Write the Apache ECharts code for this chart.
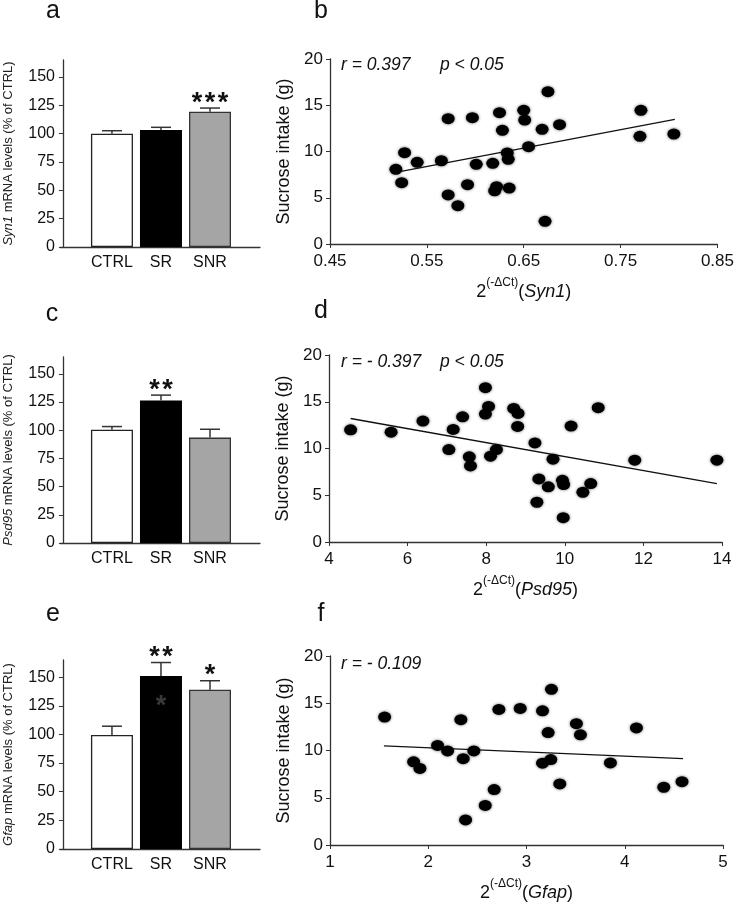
<!DOCTYPE html>
<html><head><meta charset="utf-8">
<script src="https://cdn.jsdelivr.net/npm/echarts@6/dist/echarts.min.js"></script>
<style>html,body{margin:0;padding:0;background:#fff}#c{width:737px;height:903px}</style>
</head><body><div id="c"></div>
<script>
// ---------- data ----------
const categories = ['CTRL', 'SR', 'SNR'];
const barTicks = [0, 25, 50, 75, 100, 125, 150];

const syn1Mean = [100, 103.2, 119.4];
const syn1Err = [2.6, 2.4, 3.2];
const syn1Stars = ['', '', '***'];

const psd95Mean = [100.5, 126.5, 93.5];
const psd95Err = [2.8, 4.7, 7.4];
const psd95Stars = ['', '**', ''];

const gfapMean = [99.5, 151, 139];
const gfapErr = [7.7, 11.8, 7.9];
const gfapStars = ['', '**', '*'];
const gfapInnerStar = [129]; // faint star inside SR bar

const syn1Ticks = [0.45, 0.55, 0.65, 0.75, 0.85];
const syn1Points = [[0.518,8.07],[0.524,6.63],[0.527,9.87],[0.540,8.83],[0.565,9.0],[0.572,13.55],[0.572,5.3],[0.582,4.14],[0.592,6.41],[0.597,13.66],[0.601,8.61],[0.618,8.72],[0.622,6.2],[0.620,5.75],[0.625,14.2],[0.628,12.29],[0.633,9.84],[0.634,9.15],[0.635,6.05],[0.650,14.45],[0.651,13.4],[0.655,10.52],[0.669,12.4],[0.675,16.47],[0.672,2.45],[0.687,12.9],[0.771,14.45],[0.770,11.64],[0.805,11.89]];
const syn1Fit = [[0.518,7.75],[0.806,13.48]];

const psd95Ticks = [4, 6, 8, 10, 12, 14];
const psd95Points = [[4.55,12.0],[5.58,11.75],[6.39,12.93],[7.05,9.89],[7.16,12.04],[7.40,13.39],[7.57,9.11],[7.60,8.14],[7.98,16.5],[8.06,14.5],[7.98,13.68],[8.11,9.18],[8.26,9.89],[8.70,14.29],[8.81,13.75],[8.80,12.36],[9.24,10.6],[9.70,8.86],[9.34,6.75],[9.58,5.9],[9.29,4.25],[9.94,6.6],[9.97,6.14],[9.96,2.6],[10.16,12.4],[10.85,14.36],[10.66,6.25],[10.46,5.32],[11.78,8.75],[13.87,8.75]];
const psd95Fit = [[4.55,13.21],[13.87,6.25]];

const gfapTicks = [1, 2, 3, 4, 5];
const gfapPoints = [[1.556,13.54],[1.851,8.80],[1.915,8.10],[2.095,10.54],[2.197,9.95],[2.332,13.26],[2.356,9.14],[2.464,9.95],[2.380,2.65],[2.580,4.19],[2.671,5.86],[2.719,14.35],[2.936,14.45],[3.163,14.2],[3.254,16.47],[3.22,11.9],[3.163,8.66],[3.247,9.04],[3.339,6.46],[3.508,12.84],[3.549,11.66],[3.854,8.69],[4.119,12.39],[4.397,6.11],[4.583,6.70]];
const gfapFit = [[1.549,10.5],[4.593,9.14]];

// ---------- styles ----------
const FONT = "'Liberation Sans', Arial, sans-serif";
const AX = '#333';
const barFill = ['#ffffff', '#000000', '#a5a5a5'];
const barBorder = ['#222', '#000', '#333'];

const chart = echarts.init(document.getElementById('c'), null, {renderer: 'canvas'});

const grids = [
  {left: 60, top: 60, width: 200, height: 187},
  {left: 330, top: 59, width: 393, height: 185},
  {left: 60, top: 357, width: 200, height: 186},
  {left: 329, top: 355, width: 393, height: 187},
  {left: 60, top: 660, width: 200, height: 189},
  {left: 330, top: 656, width: 393, height: 191}
];

const xAxes = [], yAxes = [], series = [];

function starGroup(str, cx, cy, color) {
  const n = str.length, sp = 13, out = [];
  for (let k = 0; k < n; k++) {
    out.push({type: 'text', x: cx + (k - (n - 1) / 2) * sp, y: cy,
      style: {text: '*', fill: color, font: 'bold 27px ' + FONT, textAlign: 'center', textVerticalAlign: 'middle'}});
  }
  return out;
}

function addBarPanel(gi, mean, err, stars, gene, extraStar) {
  xAxes.push({
    gridIndex: gi, type: 'value', min: -0.06, max: 4.02,
    axisLine: {lineStyle: {color: AX, width: 1.3}},
    axisTick: {show: false}, splitLine: {show: false},
    axisLabel: {customValues: [1, 2, 3], formatter: v => categories[Math.round(v) - 1],
      fontFamily: FONT, fontSize: 16, color: '#111', margin: 8}
  });
  yAxes.push({
    gridIndex: gi, type: 'value', min: 0, max: 165,
    axisLine: {show: true, lineStyle: {color: AX, width: 1.3}},
    axisTick: {show: true, customValues: barTicks, length: 4, lineStyle: {color: AX}},
    axisLabel: {customValues: barTicks, fontFamily: FONT, fontSize: 16, color: '#111', margin: 5},
    splitLine: {show: false},
    name: '{it|' + gene + '} mRNA levels (% of CTRL)',
    nameLocation: 'middle', nameGap: 45, nameRotate: 90,
    nameTextStyle: {fontFamily: FONT, fontSize: 13, color: '#222',
      rich: {it: {fontStyle: 'italic', fontFamily: FONT, fontSize: 13, color: '#222'}}}
  });
  const ai = xAxes.length - 1;
  series.push({
    type: 'bar', xAxisIndex: ai, yAxisIndex: ai, barWidth: 42, animation: false,
    data: mean.map((m, i) => ({value: [i + 1, m],
      itemStyle: {color: barFill[i], borderColor: barBorder[i], borderWidth: 1.3}}))
  });
  series.push({
    type: 'custom', xAxisIndex: ai, yAxisIndex: ai, animation: false, z: 5,
    data: mean.map((m, i) => [i + 1, m, err[i]]),
    renderItem: function (params, api) {
      const x = api.value(0), m = api.value(1), e = api.value(2);
      const p0 = api.coord([x, m]), p1 = api.coord([x, m + e]);
      const st = stars[params.dataIndex];
      let ch = [
        {type: 'line', shape: {x1: p0[0], y1: p0[1], x2: p1[0], y2: p1[1]}, style: {stroke: '#333', lineWidth: 1.5}},
        {type: 'line', shape: {x1: p1[0] - 10, y1: p1[1], x2: p1[0] + 10, y2: p1[1]}, style: {stroke: '#333', lineWidth: 1.5}}
      ];
      if (st) ch = ch.concat(starGroup(st, p1[0], p1[1] - 5, '#111'));
      return {type: 'group', children: ch};
    }
  });
  if (extraStar) {
    series.push({
      type: 'custom', xAxisIndex: ai, yAxisIndex: ai, animation: false, z: 6,
      data: extraStar.map(v => [2, v]),
      renderItem: function (params, api) {
        const p = api.coord([api.value(0), api.value(1)]);
        return {type: 'group', children: starGroup('*', p[0], p[1] + 5, '#3a3a3a')};
      }
    });
  }
}

function addScatterPanel(gi, pts, fit, xmin, xmax, xticks, fmt, gene) {
  xAxes.push({
    gridIndex: gi, type: 'value', min: xmin, max: xmax,
    axisLine: {lineStyle: {color: AX, width: 1.3}},
    axisTick: {show: true, customValues: xticks, length: 4, lineStyle: {color: AX}},
    axisLabel: {customValues: xticks, formatter: fmt, fontFamily: FONT, fontSize: 17, color: '#111', margin: 9},
    splitLine: {show: false},
    name: '{n|2}{sup|(-ΔCt)}{n|(}{it|' + gene + '}{n|)}',
    nameLocation: 'middle', nameGap: 33,
    nameTextStyle: {fontFamily: FONT, color: '#111',
      rich: {
        n: {fontFamily: FONT, fontSize: 18, color: '#111', lineHeight: 24, verticalAlign: 'bottom'},
        it: {fontFamily: FONT, fontSize: 18, fontStyle: 'italic', color: '#111', lineHeight: 24, verticalAlign: 'bottom'},
        sup: {fontFamily: FONT, fontSize: 12, color: '#111', lineHeight: 14, verticalAlign: 'top'}
      }}
  });
  yAxes.push({
    gridIndex: gi, type: 'value', min: 0, max: 20, interval: 5,
    axisLine: {show: true, lineStyle: {color: AX, width: 1.3}},
    axisTick: {show: true, length: 4, lineStyle: {color: AX}},
    axisLabel: {fontFamily: FONT, fontSize: 17, color: '#111', margin: 7},
    splitLine: {show: false},
    name: 'Sucrose intake (g)', nameLocation: 'middle', nameGap: 27, nameRotate: 90,
    nameTextStyle: {fontFamily: FONT, fontSize: 18, color: '#111'}
  });
  const ai = xAxes.length - 1;
  series.push({
    type: 'line', xAxisIndex: ai, yAxisIndex: ai, data: fit, symbol: 'none', animation: false, z: 2,
    lineStyle: {color: '#111', width: 1.3}
  });
  series.push({
    type: 'scatter', xAxisIndex: ai, yAxisIndex: ai, data: pts, animation: false, z: 3,
    symbol: 'circle', symbolSize: [13, 11],
    itemStyle: {color: '#000', opacity: 1, shadowBlur: 3, shadowColor: 'rgba(0,0,0,0.6)'}
  });
}

addBarPanel(0, syn1Mean, syn1Err, syn1Stars, 'Syn1');
addScatterPanel(1, syn1Points, syn1Fit, 0.45, 0.85, syn1Ticks, v => v.toFixed(2), 'Syn1');
addBarPanel(2, psd95Mean, psd95Err, psd95Stars, 'Psd95');
addScatterPanel(3, psd95Points, psd95Fit, 4, 14, psd95Ticks, v => String(v), 'Psd95');
addBarPanel(4, gfapMean, gfapErr, gfapStars, 'Gfap', gfapInnerStar);
addScatterPanel(5, gfapPoints, gfapFit, 1, 5, gfapTicks, v => String(v), 'Gfap');

function letter(t, x, y) {
  return {type: 'text', x: x, y: y, style: {text: t, font: '25px ' + FONT, fill: '#111', textAlign: 'center', textVerticalAlign: 'middle'}};
}
function note(t, x, y) {
  return {type: 'text', x: x, y: y, style: {text: t, font: 'italic 17.5px ' + FONT, fill: '#111', textAlign: 'left', textVerticalAlign: 'middle'}};
}

chart.setOption({
  animation: false,
  backgroundColor: '#fff',
  grid: grids,
  xAxis: xAxes,
  yAxis: yAxes,
  series: series,
  graphic: [
    letter('a', 53, 11), letter('b', 321, 11),
    letter('c', 52, 314), letter('d', 321, 311),
    letter('e', 53, 614), letter('f', 321, 614),
    note('r = 0.397', 341, 65), note('p < 0.05', 440, 65),
    note('r = - 0.397', 341, 362), note('p < 0.05', 440, 362),
    note('r = - 0.109', 341, 664)
  ]
});
</script>
</body></html>
